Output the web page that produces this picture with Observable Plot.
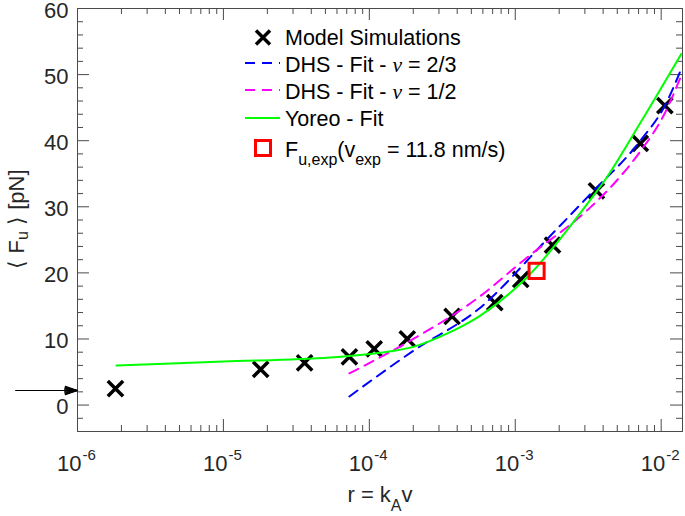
<!DOCTYPE html>
<html><head><meta charset="utf-8">
<script src="https://cdn.jsdelivr.net/npm/d3@7"></script>
<script src="https://cdn.jsdelivr.net/npm/@observablehq/plot@0.6"></script>
<style>
html,body{margin:0;padding:0;background:#fff;}
#chart{width:685px;height:516px;}
</style></head><body><div id="chart"></div>
<script>
// ---- data ----
const simR = [1.82e-6, 1.80e-5, 3.6e-5, 7.3e-5, 1.08e-4, 1.82e-4, 3.69e-4, 7.24e-4, 1.09e-3, 1.80e-3, 3.6e-3, 7.2e-3, 1.06e-2];
const simF = [2.5, 5.4, 6.4, 7.3, 8.5, 10.0, 13.4, 15.5, 19.0, 24.2, 32.4, 39.6, 45.3];

const dhs23R = [7.3e-5, 2.0e-4, 5.73e-4, 1.67e-3, 3.23e-3, 7.2e-3, 1.06e-2, 1.37e-2];
const dhs23F = [1.3, 8.2, 14.7, 25.2, 31.8, 40.0, 45.3, 50.8];

const dhs12R = [7.3e-5, 2.0e-4, 5.46e-4, 1.2e-3, 3.23e-3, 4.93e-3, 7.2e-3, 1.05e-2, 1.37e-2];
const dhs12F = [4.8, 10.0, 16.1, 22.3, 29.8, 33.9, 38.4, 44.0, 49.8];

const yoreoR = [1.85e-6, 1.0e-5, 5.4e-5, 1.19e-4, 2.0e-4, 3.4e-4, 5.73e-4, 1.2e-3, 3.23e-3, 4.08e-3, 7.2e-3, 1.37e-2];
const yoreoF = [6.0, 6.6, 7.2, 7.9, 8.8, 10.8, 13.5, 19.3, 30.9, 33.9, 42.7, 53.1];

const expR = [1.40e-3];
const expF = [20.3];

const arrowR = [3.8e-7, 1.0e-6];
const arrowF = 2.2;

const xMajorTicks = [1e-6, 1e-5, 1e-4, 1e-3, 1e-2];
const xTickExponents = ["-6", "-5", "-4", "-3", "-2"];
const xMinorTicks = [-6, -5, -4, -3].flatMap(k => [2,3,4,5,6,7,8,9].map(m => m * Math.pow(10, k)));
const yMajorTicks = [0, 10, 20, 30, 40, 50, 60];
const yMinorTicks = [-2, 2, 4, 6, 8, 12, 14, 16, 18, 22, 24, 26, 28, 32, 34, 36, 38, 42, 44, 46, 48, 52, 54, 56, 58];

const legendLabels = ["Model Simulations", "DHS - Fit - ", "DHS - Fit - ", "Yoreo - Fit"];

// ---- layout ----
const W = 685, H = 516, mL = 77, mR = 3, mT = 8, mB = 85;
const pW = W - mL - mR, pH = H - mT - mB;
const axisColor = "#4a4a4a", textColor = "#262626";
const FONT = "'Liberation Sans', Arial, Helvetica, sans-serif";

const zip = (a, b) => a.map((r, i) => ({r, f: b[i]}));
const sim = zip(simR, simF), d23 = zip(dhs23R, dhs23F), d12 = zip(dhs12R, dhs12F), yor = zip(yoreoR, yoreoF), ex = zip(expR, expF);
const arrowData = [{x1: arrowR[0], x2: arrowR[1], y: arrowF}];

const marks = [
  Plot.frame({stroke: axisColor, strokeWidth: 1}),
  // inward ticks: bottom/top
  Plot.tickX(xMajorTicks, {x: d => d, insetTop: pH - 12, stroke: axisColor}),
  Plot.tickX(xMinorTicks, {x: d => d, insetTop: pH - 6, stroke: axisColor}),
  Plot.tickX(xMajorTicks, {x: d => d, insetBottom: pH - 12, stroke: axisColor}),
  Plot.tickX(xMinorTicks, {x: d => d, insetBottom: pH - 6, stroke: axisColor}),
  // inward ticks: left/right
  Plot.tickY(yMajorTicks, {y: d => d, insetRight: pW - 12, stroke: axisColor}),
  Plot.tickY(yMinorTicks, {y: d => d, insetRight: pW - 6, stroke: axisColor}),
  Plot.tickY(yMajorTicks, {y: d => d, insetLeft: pW - 12, stroke: axisColor}),
  Plot.tickY(yMinorTicks, {y: d => d, insetLeft: pW - 6, stroke: axisColor}),
  // tick labels
  Plot.text(yMajorTicks, {y: d => d, text: d => String(d), frameAnchor: "left", textAnchor: "end", dx: -9, dy: 2, fontSize: 22, fill: textColor}),
  Plot.text(xMajorTicks, {x: d => d, text: () => "10", frameAnchor: "bottom", textAnchor: "end", lineAnchor: "bottom", dx: 4, dy: 39, fontSize: 22, fill: textColor}),
  Plot.text(xMajorTicks, {x: d => d, text: (d, i) => xTickExponents[i], frameAnchor: "bottom", textAnchor: "start", lineAnchor: "bottom", dx: 5, dy: 28, fontSize: 15, fill: textColor}),
  // data
  Plot.dot(sim, {x: "r", y: "f", symbol: "times", r: 7, stroke: "black", strokeWidth: 3.5}),
  Plot.line(d23, {x: "r", y: "f", stroke: "#0000ff", strokeWidth: 2, strokeDasharray: "10,7", curve: "monotone-x"}),
  Plot.line(d12, {x: "r", y: "f", stroke: "#ff00ff", strokeWidth: 2, strokeDasharray: "10,7", curve: "monotone-x"}),
  Plot.line(yor, {x: "r", y: "f", stroke: "#00ff00", strokeWidth: 2, curve: "monotone-x"}),
  Plot.dot(ex, {x: "r", y: "f", symbol: "square", r: 8.5, stroke: "#ff0000", strokeWidth: 3, fill: "none"}),
  // annotation arrow (filled head via fan of heads)
  ...[38, 30, 22, 14, 6].map(a => Plot.arrow(arrowData, {x1: "x1", x2: "x2", y1: "y", y2: "y", stroke: "black", strokeWidth: 1.2, headAngle: a, headLength: 16}))
];

const chart = Plot.plot({
  width: W, height: H,
  marginLeft: mL, marginRight: mR, marginTop: mT, marginBottom: mB,
  x: {type: "log", domain: [1e-6, 1.4e-2], axis: null},
  y: {domain: [-4, 60], axis: null},
  style: {fontFamily: FONT, fontSize: "22px", background: "white", color: textColor, overflow: "visible"},
  marks
});
document.getElementById("chart").appendChild(chart);

// ---- texts with sub/superscripts and the legend ----
const s = d3.select(chart);
const g = s.append("g").attr("font-family", FONT);

// y label
const yl = g.append("text").attr("transform", "translate(24,219) rotate(-90)")
  .attr("text-anchor", "middle").attr("font-size", 22).attr("fill", textColor);
yl.append("tspan").text("\u27E8 F");
yl.append("tspan").attr("dy", 4).attr("font-size", 16).text("u");
yl.append("tspan").attr("dy", -4).text(" \u27E9 [pN]");

// x label
const xl = g.append("text").attr("x", 380).attr("y", 502)
  .attr("text-anchor", "middle").attr("font-size", 22).attr("fill", textColor);
xl.append("tspan").text("r = k");
xl.append("tspan").attr("dy", 9).attr("font-size", 16).text("A");
xl.append("tspan").attr("dy", -9).text("v");

// legend
const lg = g.append("g").attr("font-size", 21.5).attr("fill", "black").attr("text-anchor", "start");
const rowY = [37.5, 64, 91, 118, 148];
const tx = 285;
lg.append("path").attr("d", `M256,${rowY[0]-7}L270,${rowY[0]+7}M270,${rowY[0]-7}L256,${rowY[0]+7}`)
  .attr("stroke", "black").attr("stroke-width", 3.5).attr("fill", "none");
lg.append("text").attr("x", tx).attr("y", rowY[0] + 7.5).text(legendLabels[0]);

[["#0000ff", "10,7", "2/3"], ["#ff00ff", "10,7", "1/2"]].forEach(([c, da, nu], i) => {
  const y = rowY[i + 1];
  lg.append("line").attr("x1", 245).attr("x2", 280).attr("y1", y - 1).attr("y2", y - 1)
    .attr("stroke", c).attr("stroke-width", 2).attr("stroke-dasharray", da);
  const t = lg.append("text").attr("x", tx).attr("y", y + 7.5);
  t.append("tspan").text(legendLabels[i + 1]);
  t.append("tspan").attr("font-family", "'Liberation Serif', 'Times New Roman', serif").attr("font-style", "italic").text("\u03BD");
  t.append("tspan").text(" = " + nu);
});

lg.append("line").attr("x1", 245).attr("x2", 280).attr("y1", rowY[3]).attr("y2", rowY[3])
  .attr("stroke", "#00ff00").attr("stroke-width", 2);
lg.append("text").attr("x", tx).attr("y", rowY[3] + 7.5).text(legendLabels[3]);

lg.append("rect").attr("x", 263 - 7.5).attr("y", rowY[4] - 7.5).attr("width", 15).attr("height", 15)
  .attr("stroke", "#ff0000").attr("stroke-width", 3).attr("fill", "none");
const ft = lg.append("text").attr("x", tx).attr("y", rowY[4] + 8.5);
ft.append("tspan").text("F");
ft.append("tspan").attr("dy", 8).attr("font-size", 16).text("u,exp");
ft.append("tspan").attr("dy", -8).text("(v");
ft.append("tspan").attr("dy", 8).attr("font-size", 16).text("exp");
ft.append("tspan").attr("dy", -8).text(" = 11.8 nm/s)");
</script>
</body></html>
